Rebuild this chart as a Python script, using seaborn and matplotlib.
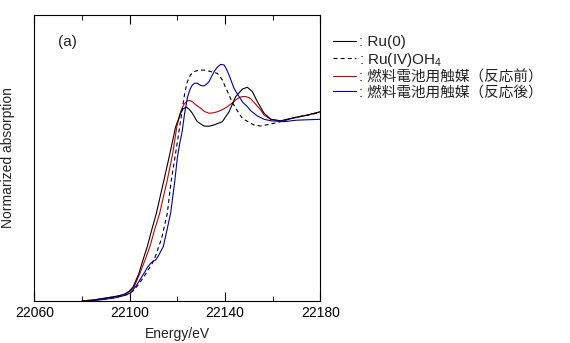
import matplotlib
matplotlib.use("Agg")
import matplotlib.pyplot as plt
from matplotlib.lines import Line2D
from matplotlib.ticker import MultipleLocator
import numpy as np
import pandas as pd
import seaborn as sns

# Ru K-edge XANES spectra (energy in eV, normalized absorption)
ru0_energy = [22080, 22085, 22090, 22095, 22097.6, 22100, 22101.5, 22103.9, 22105.5,
              22107.4, 22109.3, 22111.2, 22112.8, 22114.4, 22116.8, 22119.3, 22121.4,
              22122.3, 22123.8, 22125.2, 22126.3, 22128.4, 22131.2, 22133.3, 22135.4,
              22138.9, 22141.7, 22144.5, 22147.3, 22149.4, 22151.5, 22153.6, 22156.4,
              22159.2, 22163.4, 22169, 22174.6, 22180]
ru0_abs = [0.0, 0.006, 0.016, 0.027, 0.035, 0.055, 0.078, 0.151, 0.22,
           0.297, 0.39, 0.479, 0.57, 0.661, 0.8, 0.952, 1.026,
           1.048, 1.06, 1.045, 1.026, 0.98, 0.956, 0.955, 0.962,
           0.98, 1.034, 1.117, 1.158, 1.168, 1.144, 1.089, 1.026,
           0.993, 0.985, 1.002, 1.016, 1.034]

ruoh4_energy = [22083, 22088, 22093, 22097, 22100, 22101.8, 22104, 22106, 22108,
                22109.5, 22111, 22112, 22113.4, 22114.6, 22115.8, 22116.9, 22117.5,
                22119.2, 22121, 22122, 22123.1, 22124.2, 22125.5, 22127, 22129.1,
                22131, 22132.6, 22134.5, 22136.8, 22138.9, 22140.3, 22141.7, 22143,
                22144.5, 22147.3, 22150.8, 22152.2, 22155, 22159.2, 22163.4, 22169,
                22174.6, 22180]
ruoh4_abs = [0.0, 0.008, 0.017, 0.028, 0.042, 0.06, 0.095, 0.133, 0.175,
             0.206, 0.25, 0.29, 0.34, 0.41, 0.479, 0.6, 0.661,
             0.8, 0.952, 1.04, 1.135, 1.198, 1.235, 1.253, 1.262,
             1.262, 1.259, 1.252, 1.244, 1.208, 1.165, 1.126, 1.088,
             1.053, 0.998, 0.971, 0.962, 0.956, 0.967, 0.98, 1.002,
             1.015, 1.03]

before_energy = [22080, 22085, 22090, 22095, 22098, 22100, 22101.8, 22104.3, 22106.5,
                 22108.5, 22110.5, 22112.6, 22114.2, 22115.8, 22118, 22119.8, 22121.4,
                 22122.8, 22124.2, 22125.2, 22126.3, 22128, 22129.8, 22131.5, 22133.3,
                 22135, 22136.8, 22139, 22141, 22142.8, 22144.5, 22146, 22147.3,
                 22148.7, 22150.1, 22150.8, 22152.9, 22155, 22156.4, 22159.2, 22163.4,
                 22169, 22174.6, 22180]
before_abs = [0.0, 0.006, 0.016, 0.027, 0.038, 0.052, 0.075, 0.151, 0.225,
              0.297, 0.39, 0.479, 0.57, 0.661, 0.8, 0.952, 1.035,
              1.075, 1.094, 1.096, 1.089, 1.07, 1.053, 1.035, 1.026,
              1.028, 1.034, 1.046, 1.062, 1.08, 1.098, 1.112, 1.117,
              1.117, 1.111, 1.105, 1.075, 1.044, 1.016, 0.993, 0.982,
              1.0, 1.016, 1.034]

after_energy = [22083, 22088, 22093, 22096, 22098.6, 22100.4, 22102.5, 22104.3, 22106,
                22107.5, 22108.8, 22109.9, 22110.9, 22112.2, 22113.2, 22114.1, 22115.2,
                22116.2, 22117.2, 22118, 22118.9, 22120, 22121, 22122.1, 22123,
                22124.2, 22125.2, 22126.3, 22127.3, 22128.4, 22129.8, 22131.2, 22132.3,
                22133.3, 22135.4, 22136.8, 22138.2, 22139.6, 22140.6, 22141.7, 22143.8,
                22145.9, 22147.5, 22149.4, 22150.8, 22153.6, 22156.4, 22159.2, 22164.8,
                22170, 22180]
after_abs = [0.0, 0.007, 0.015, 0.024, 0.033, 0.045, 0.078, 0.115, 0.151,
             0.185, 0.206, 0.218, 0.224, 0.25, 0.275, 0.297, 0.36,
             0.42, 0.479, 0.56, 0.65, 0.78, 0.86, 0.93, 1.02,
             1.108, 1.153, 1.18, 1.19, 1.19, 1.178, 1.175, 1.185,
             1.198, 1.253, 1.278, 1.293, 1.29, 1.268, 1.235, 1.162,
             1.117, 1.085, 1.062, 1.04, 1.011, 0.993, 0.985, 0.98,
             0.988, 0.993]

series_labels = [": Ru(0)", ": Ru(IV)OH$_4$", ": 燃料電池用触媒（反応前）", ": 燃料電池用触媒（反応後）"]
series_colors = ["#000000", "#000000", "#c80000", "#0000a8"]
series_dashed = [False, True, False, False]

x_ticks = [22060, 22100, 22140, 22180]

sns.set_theme(style="white")
plt.rcParams["font.family"] = ["Liberation Sans", "Noto Sans CJK JP", "DejaVu Sans"]
plt.rcParams["mathtext.fontset"] = "custom"
plt.rcParams["mathtext.rm"] = "Liberation Sans"
plt.rcParams["mathtext.default"] = "regular"

fig = plt.figure(figsize=(5.70, 3.43), dpi=100)
ax = fig.add_axes([34.3 / 570, 42 / 343, 286 / 570, 286 / 343])

spectra = [(ru0_energy, ru0_abs), (ruoh4_energy, ruoh4_abs),
           (before_energy, before_abs), (after_energy, after_abs)]
draw_order = [2, 0, 1, 3]
dash_pattern = (3.6, 2.8)
for i in draw_order:
    e, a = spectra[i]
    df = pd.DataFrame({"energy": e, "absorption": a})
    sns.lineplot(data=df, x="energy", y="absorption", ax=ax, sort=False,
                 color=series_colors[i], linewidth=0.8, legend=False,
                 estimator=None)
    if series_dashed[i]:
        ax.lines[-1].set_dashes(dash_pattern)

ax.set_xlim(22060, 22180)
ax.set_ylim(0, 286 / 183)
ax.set_xticks(x_ticks)
ax.xaxis.set_minor_locator(MultipleLocator(20))
ax.set_yticks([])
ax.tick_params(axis="x", which="major", direction="in", length=6.5, width=0.8,
               top=True, bottom=True, labelsize=10, pad=3.5, colors="black")
ax.tick_params(axis="x", which="minor", direction="in", length=3.6, width=0.8,
               top=True, bottom=True)
for s in ax.spines.values():
    s.set_visible(True)
    s.set_color("black")
    s.set_linewidth(0.8)

ax.set_xlabel("Energy/eV", fontsize=10, color="#222222")
ax.set_ylabel("Normarized absorption", fontsize=10, color="#222222")
ax.xaxis.set_label_coords(0.5, -0.092)
ax.yaxis.set_label_coords(-0.068, 0.5)

ax.text(0.083, 0.907, "(a)", transform=ax.transAxes, fontsize=11,
        ha="left", va="center", color="#222222")

handles = []
for c, d in zip(series_colors, series_dashed):
    h = Line2D([0], [0], color=c, linewidth=0.8)
    if d:
        h.set_dashes(dash_pattern)
    handles.append(h)
leg = fig.legend(handles, series_labels, loc="upper left",
                 bbox_to_anchor=(333 / 570, 1 - 35 / 343), frameon=False,
                 fontsize=11, handlelength=1.5, handletextpad=0.2,
                 labelspacing=0.1, borderaxespad=0, borderpad=0)
for t in leg.get_texts()[2:]:
    t.set_fontsize(10.5)
for t in leg.get_texts():
    t.set_color("#222222")

fig.savefig("out.png", dpi=100)
